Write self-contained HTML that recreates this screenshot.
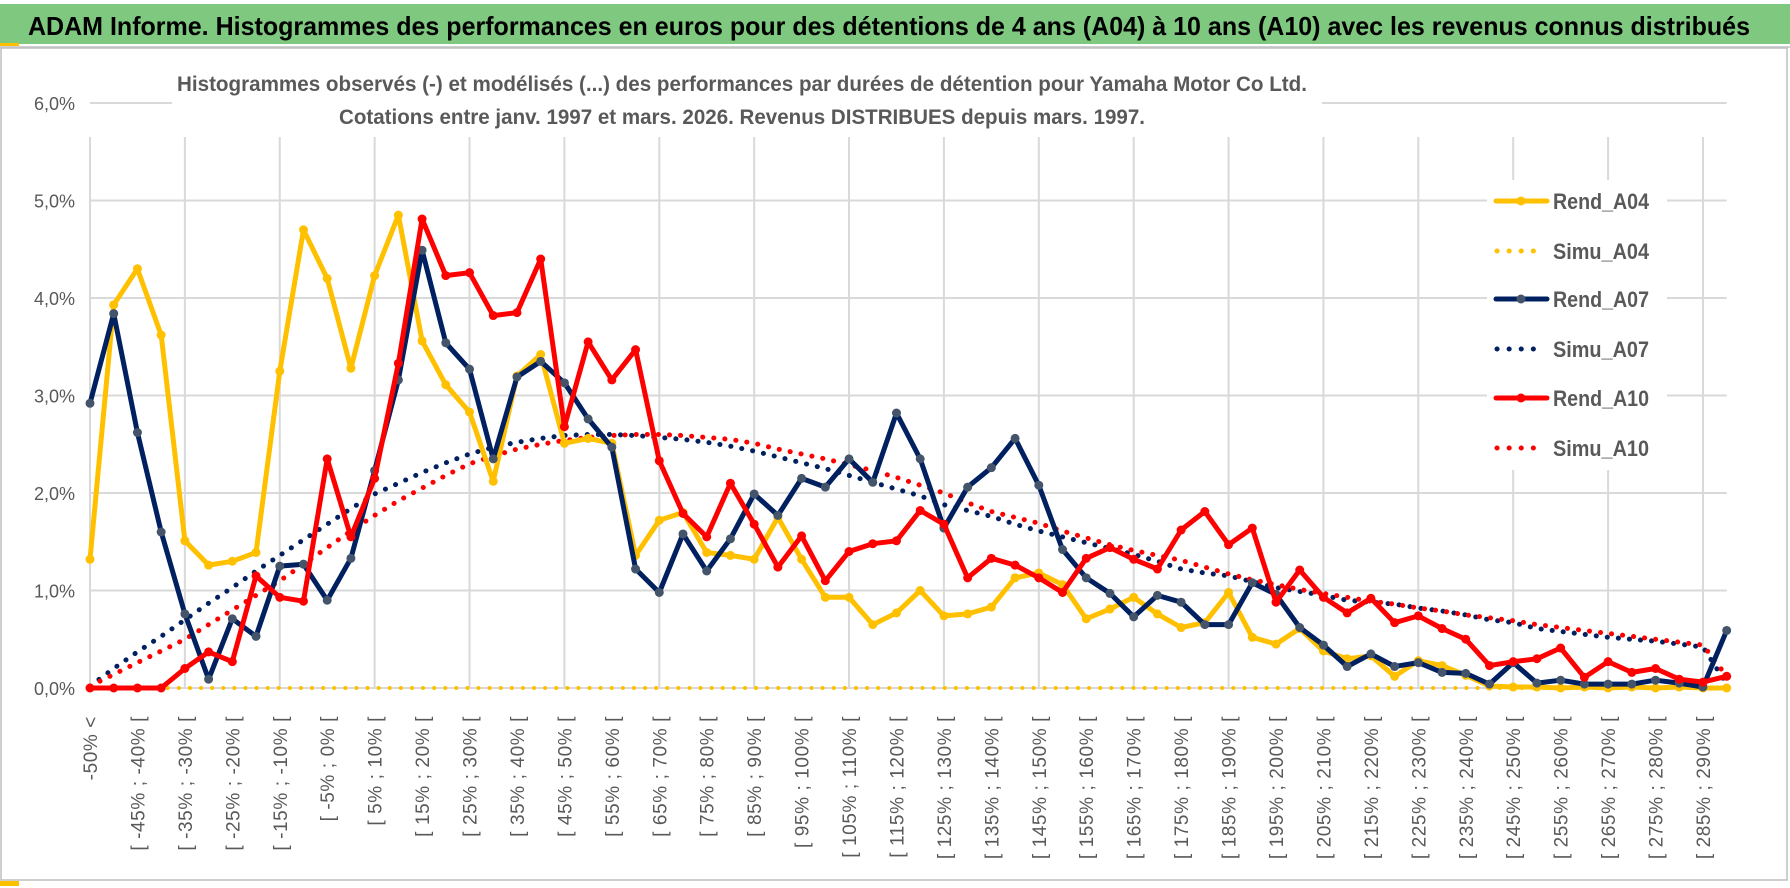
<!DOCTYPE html>
<html><head><meta charset="utf-8">
<style>
html,body{margin:0;padding:0;background:#fff;}
svg{display:block;font-family:"Liberation Sans",sans-serif;}
</style></head>
<body>
<svg id="chart" width="1790" height="888" viewBox="0 0 1790 888">
  <rect x="0" y="0" width="1790" height="888" fill="#fff"/>
  <rect x="0" y="4" width="1790" height="40" fill="#7ec87f"/>
  <rect x="0" y="43" width="19" height="4" fill="#ffc000"/>
  <line x1="0" y1="47" x2="1790" y2="47" stroke="#d0d0d0" stroke-width="2"/>
  <text x="28" y="35" font-size="26" font-weight="bold" fill="#000" textLength="1722" lengthAdjust="spacingAndGlyphs">ADAM Informe. Histogrammes des performances en euros pour des détentions de 4 ans (A04) à 10 ans (A10) avec les revenus connus distribués</text>
  <rect x="1" y="48" width="1786" height="832" fill="none" stroke="#bdbdbd" stroke-width="1.5"/>
  <rect x="0" y="881" width="19" height="5" fill="#ffc000"/>
  <g id="grid"></g>
  <g id="yaxis"></g>
  <g id="xaxis"></g>
  <rect x="172" y="60" width="1150" height="76" fill="#fff"/>
  <text x="742" y="91" font-size="21" font-weight="bold" fill="#595959" text-anchor="middle" textLength="1130" lengthAdjust="spacingAndGlyphs">Histogrammes observés (-) et modélisés (...) des performances par durées de détention pour Yamaha Motor Co Ltd.</text>
  <text x="742" y="124" font-size="21" font-weight="bold" fill="#595959" text-anchor="middle" textLength="806" lengthAdjust="spacingAndGlyphs">Cotations entre janv. 1997 et mars. 2026. Revenus DISTRIBUES depuis mars. 1997.</text>
  <g id="series"></g>
  <g id="legend"></g>
</svg>
<script>
const categories = (function(){ const c=['-50% <']; for(let a=-50;a<295;a+=5){ c.push('[ '+a+'% ; '+(a+5)+'% ['); } return c; })();
const rendA04 = [1.32,3.93,4.3,3.62,1.51,1.26,1.3,1.39,3.25,4.7,4.2,3.28,4.23,4.85,3.56,3.11,2.83,2.12,3.2,3.42,2.51,2.56,2.51,1.36,1.72,1.8,1.39,1.36,1.32,1.75,1.32,0.93,0.93,0.65,0.77,1.0,0.74,0.76,0.83,1.13,1.18,1.06,0.71,0.81,0.93,0.76,0.62,0.67,0.98,0.52,0.45,0.61,0.38,0.3,0.33,0.12,0.28,0.23,0.13,0.02,0.01,0.01,0.0,0.01,0.0,0.01,0.0,0.01,0.0,0.0];
const rendA07 = [2.92,3.84,2.62,1.6,0.76,0.09,0.71,0.53,1.25,1.27,0.9,1.33,2.23,3.16,4.49,3.54,3.27,2.35,3.19,3.35,3.13,2.76,2.47,1.22,0.98,1.58,1.2,1.53,1.99,1.77,2.15,2.06,2.35,2.11,2.82,2.35,1.64,2.06,2.26,2.56,2.08,1.42,1.13,0.97,0.73,0.95,0.88,0.65,0.65,1.08,0.96,0.62,0.44,0.22,0.35,0.22,0.26,0.16,0.15,0.04,0.26,0.05,0.08,0.04,0.04,0.04,0.08,0.05,0.01,0.59];
const rendA10 = [0,0,0,0,0.2,0.37,0.27,1.15,0.93,0.89,2.35,1.55,2.15,3.33,4.81,4.23,4.26,3.82,3.85,4.4,2.68,3.55,3.16,3.47,2.33,1.79,1.55,2.1,1.68,1.24,1.56,1.1,1.4,1.48,1.51,1.82,1.68,1.13,1.33,1.26,1.13,0.98,1.33,1.44,1.32,1.22,1.62,1.81,1.47,1.64,0.88,1.21,0.93,0.77,0.92,0.67,0.74,0.61,0.5,0.23,0.27,0.3,0.41,0.11,0.27,0.16,0.2,0.09,0.06,0.12];
const simuA04 = [0,0,0,0,0,0,0,0,0,0,0,0,0,0,0,0,0,0,0,0,0,0,0,0,0,0,0,0,0,0,0,0,0,0,0,0,0,0,0,0,0,0,0,0,0,0,0,0,0,0,0,0,0,0,0,0,0,0,0,0,0,0,0,0,0,0,0,0,0,0];
const simuA07 = [0.02,0.2,0.37,0.53,0.7,0.87,1.03,1.2,1.36,1.52,1.68,1.84,1.99,2.1,2.21,2.31,2.4,2.47,2.52,2.56,2.59,2.6,2.6,2.59,2.57,2.55,2.52,2.48,2.43,2.37,2.31,2.25,2.18,2.11,2.04,1.97,1.88,1.82,1.76,1.68,1.61,1.55,1.49,1.43,1.37,1.3,1.22,1.18,1.15,1.09,1.03,0.99,0.95,0.9,0.88,0.86,0.82,0.79,0.75,0.7,0.67,0.61,0.58,0.55,0.52,0.5,0.48,0.45,0.42,0.04];
const simuA10 = [0.02,0.14,0.26,0.38,0.5,0.65,0.8,0.95,1.1,1.27,1.44,1.61,1.77,1.92,2.05,2.18,2.3,2.38,2.45,2.5,2.54,2.57,2.59,2.6,2.6,2.59,2.57,2.55,2.51,2.45,2.4,2.35,2.29,2.23,2.16,2.08,2.0,1.9,1.81,1.75,1.69,1.61,1.54,1.47,1.41,1.36,1.31,1.24,1.17,1.11,1.06,1.01,0.97,0.93,0.89,0.86,0.82,0.79,0.75,0.72,0.69,0.65,0.62,0.59,0.56,0.53,0.5,0.47,0.44,0.12];
const yTicks = [0,1,2,3,4,5,6];
const yTickLabels = ['0,0%','1,0%','2,0%','3,0%','4,0%','5,0%','6,0%'];

const NS='http://www.w3.org/2000/svg';
const X0=90, DX=23.72, Y0=688, DY=97.5;
function xPos(i){ return X0 + i*DX; }
function yPos(v){ return Y0 - v*DY; }
function mk(tag, attrs, parent){ const e=document.createElementNS(NS,tag); for(const k in attrs) e.setAttribute(k, attrs[k]); parent.appendChild(e); return e; }

const grid=document.getElementById('grid'), yax=document.getElementById('yaxis'), xax=document.getElementById('xaxis');
const plotRight = xPos(categories.length-1);
for(let k=0;k<yTicks.length;k++){
  const y=yPos(yTicks[k]);
  const gl=mk('line',{x1:X0,y1:y,x2:plotRight,y2:y,stroke:'#d9d9d9','stroke-width':2},grid);
  
  
  const t=mk('text',{x:75,y:y+7,'font-size':18,fill:'#595959','text-anchor':'end'},yax);
  t.textContent=yTickLabels[k];
  
  
}
for(let i=0;i<categories.length;i+=4){
  const x=xPos(i);
  const gl=mk('line',{x1:x,y1:137,x2:x,y2:Y0,stroke:'#d9d9d9','stroke-width':2},grid);
  
  
}
for(let i=0;i<categories.length;i+=2){
  const x=xPos(i)+7, y=716;
  const t=mk('text',{x:x,y:y,'font-size':19,'letter-spacing':0.6,fill:'#595959','text-anchor':'end',transform:'rotate(-90 '+x+' '+y+')'},xax);
  t.textContent=categories[i];
  
  
}

const series=document.getElementById('series');
function pts(arr){ return arr.map((v,i)=>xPos(i).toFixed(1)+','+yPos(v).toFixed(1)).join(' '); }
function dotted(arr,color,name,w){
  const p=mk('polyline',{points:pts(arr),fill:'none',stroke:color,'stroke-width':w,'stroke-linecap':'round','stroke-dasharray':'0.1 11'},series);
  
  
}
function solid(arr,color,mcolor,name){
  const g=mk('g',{},series);
  
  
  const p=mk('polyline',{points:pts(arr),fill:'none',stroke:color,'stroke-width':5,'stroke-linejoin':'round'},g);
  
  
  arr.forEach((v,i)=>{
    const c=mk('circle',{cx:xPos(i),cy:yPos(v),r:4.5,fill:mcolor},g);
    
    
  });
}
dotted(simuA04,'#ffc000','simu-a04',4);
dotted(simuA07,'#002060','simu-a07',5);
dotted(simuA10,'#ff0000','simu-a10',5);
solid(rendA04,'#ffc000','#ffc000','rend-a04');
solid(rendA07,'#002060','#44546a','rend-a07');
solid(rendA10,'#ff0000','#ff0000','rend-a10');

const legend=document.getElementById('legend');
const lb=mk('rect',{x:1487,y:180,width:180,height:290,fill:'#fff'},legend);


const legItems=[['Rend_A04','#ffc000','#ffc000',false],['Simu_A04','#ffc000','',true],['Rend_A07','#002060','#44546a',false],['Simu_A07','#002060','',true],['Rend_A10','#ff0000','#ff0000',false],['Simu_A10','#ff0000','',true]];
const legY=[201,251,299,349,398,448];
legItems.forEach((it,k)=>{
  const y=legY[k];
  const g=mk('g',{},legend);
  
  
  if(it[3]){
    mk('line',{x1:1497,y1:y,x2:1540,y2:y,stroke:it[1],'stroke-width':5,'stroke-linecap':'round','stroke-dasharray':'0.1 12'},g);
  } else {
    mk('line',{x1:1496,y1:y,x2:1547,y2:y,stroke:it[1],'stroke-width':5,'stroke-linecap':'round'},g);
    mk('circle',{cx:1521,cy:y,r:4.5,fill:it[2]},g);
  }
  const t=mk('text',{x:1553,y:y+8,'font-size':22,'font-weight':'bold',fill:'#595959',textLength:96,lengthAdjust:'spacingAndGlyphs'},g);
  t.textContent=it[0];
});
</script>
</body></html>
